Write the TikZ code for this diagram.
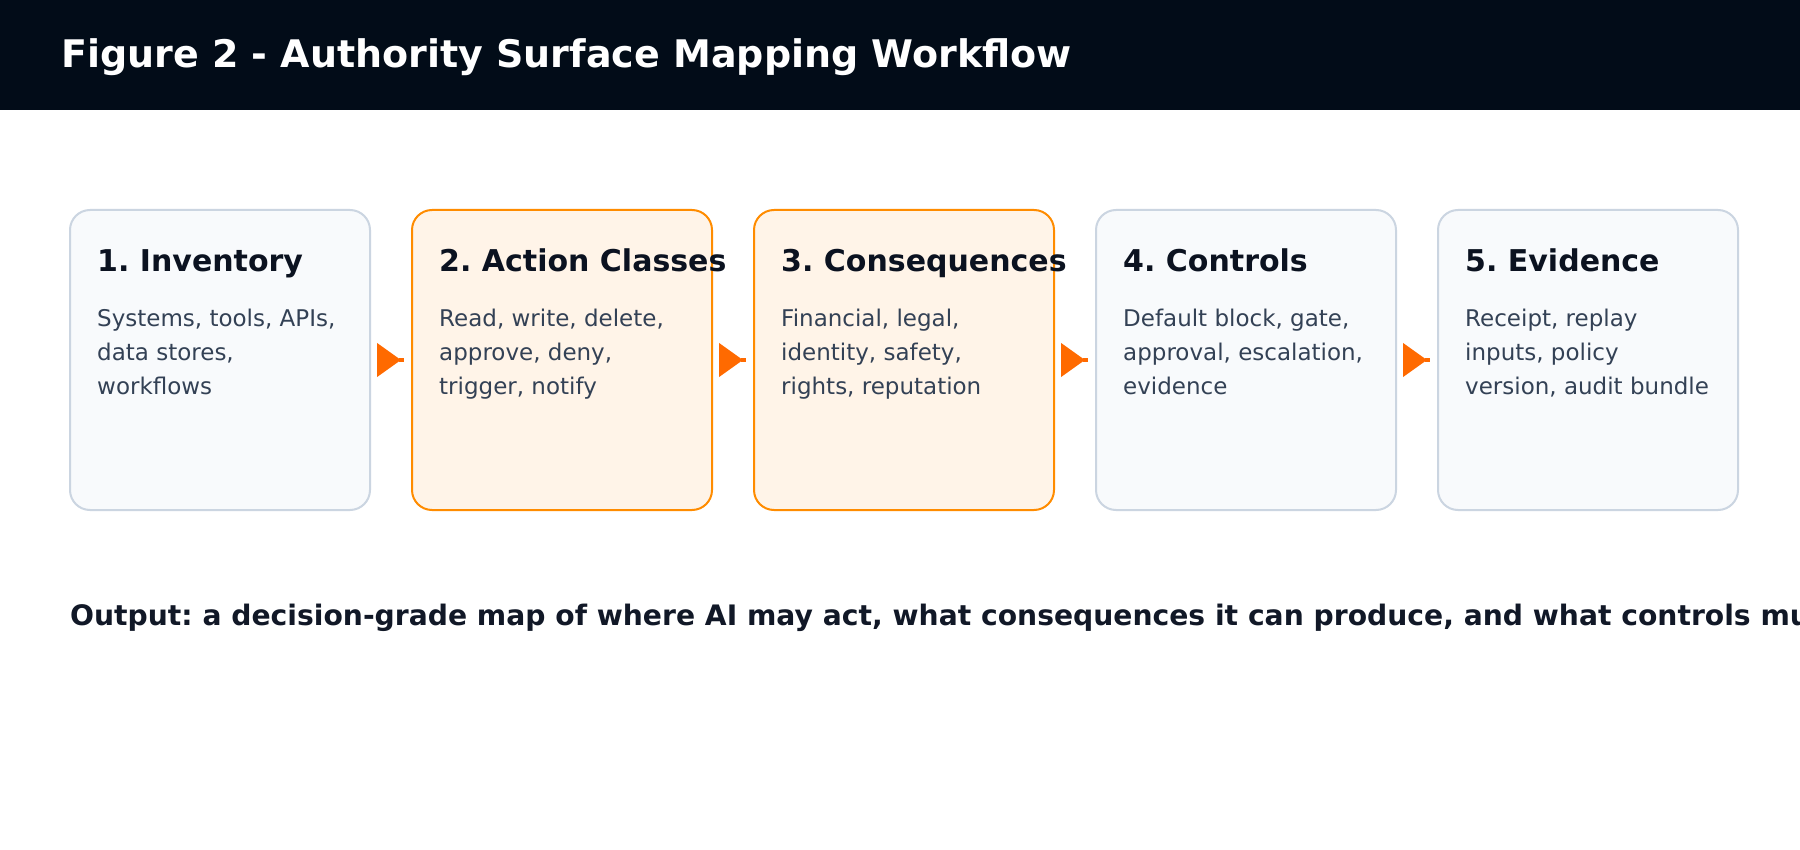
\documentclass[tikz,border=0pt]{standalone}
\usepackage{fontspec}
\setmainfont{DejaVu Sans}
\usetikzlibrary{positioning, calc, arrows.meta}
\frenchspacing

\definecolor{headerbg}{HTML}{020C18}
\definecolor{greyfill}{HTML}{F8FAFC}
\definecolor{greyline}{HTML}{CBD5E1}
\definecolor{orangefill}{HTML}{FFF4E8}
\definecolor{orangeline}{HTML}{FF8C00}
\definecolor{arrowcol}{HTML}{FF6A00}
\definecolor{titletext}{HTML}{0B1220}
\definecolor{bodytext}{HTML}{334155}
\definecolor{outtext}{HTML}{111827}

\tikzset{
    stagebox/.style={rounded corners=20pt, line width=2pt, minimum width=300pt, minimum height=300pt, inner sep=0pt},
    greybox/.style={stagebox, fill=greyfill, draw=greyline},
    orangebox/.style={stagebox, fill=orangefill, draw=orangeline},
    stagetitle/.style={anchor=base west, inner sep=0pt, text=titletext, font=\fontsize{30}{36}\selectfont\bfseries},
    stagebody/.style={anchor=base west, inner sep=0pt, text=bodytext, align=left, font=\fontsize{23}{34.4}\selectfont},
    flowarrow/.style={draw=arrowcol, line width=4.5pt, -{Triangle[length=24pt,width=33pt]}, shorten >=3pt},
    flowstub/.style={draw=arrowcol, line width=4.5pt}
}

\begin{document}
\begin{tikzpicture}[x=1pt, y=-1pt]
    \clip (0,0) rectangle (1800,850);
    \fill[white] (0,0) rectangle (1800,850);

    % Header bar
    \node (Header) at (900,55) [fill=headerbg, minimum width=1800pt, minimum height=110pt, inner sep=0pt]{};
    \node (HeaderTitle) at (61,68) [anchor=base west, inner sep=0pt, text=white, font=\fontsize{38}{45}\selectfont\bfseries]{Figure 2 - Authority Surface Mapping Workflow};

    % Inventory (base of the body text = its last line)
    \node (Inventory) at (220,360) [greybox]{};
    \node (Inventory-Title) at ($(Inventory.north west)+(28,63)$) [stagetitle]{1. Inventory};
    \node (Inventory-Text) at ($(Inventory.north west)+(28,186)$) [stagebody]{Systems, tools, APIs,\\data stores,\\workflows};

    % Action classes
    \node (ActionClasses) at (562,360) [orangebox]{};
    \node (ActionClasses-Title) at ($(ActionClasses.north west)+(28,63)$) [stagetitle]{2. Action Classes};
    \node (ActionClasses-Text) at ($(ActionClasses.north west)+(28,186)$) [stagebody]{Read, write, delete,\\approve, deny,\\trigger, notify};

    % Consequences
    \node (Consequences) at (904,360) [orangebox]{};
    \node (Consequences-Title) at ($(Consequences.north west)+(28,63)$) [stagetitle]{3. Consequences};
    \node (Consequences-Text) at ($(Consequences.north west)+(28,186)$) [stagebody]{Financial, legal,\\identity, safety,\\rights, reputation};

    % Controls
    \node (Controls) at (1246,360) [greybox]{};
    \node (Controls-Title) at ($(Controls.north west)+(28,63)$) [stagetitle]{4. Controls};
    \node (Controls-Text) at ($(Controls.north west)+(28,186)$) [stagebody]{Default block, gate,\\approval, escalation,\\evidence};

    % Evidence
    \node (Evidence) at (1588,360) [greybox]{};
    \node (Evidence-Title) at ($(Evidence.north west)+(28,63)$) [stagetitle]{5. Evidence};
    \node (Evidence-Text) at ($(Evidence.north west)+(28,186)$) [stagebody]{Receipt, replay\\inputs, policy\\version, audit bundle};

    %%%%%%%%%%%%%%%%%%%
    % Arrows between stages
    \draw[flowarrow] ($(Inventory.east)+(8,0)$) -- ($(ActionClasses.west)+(-7,0)$);
    \draw[flowstub] ($(ActionClasses.west)+(-12,0)$) -- ($(ActionClasses.west)+(-7,0)$);
    \draw[flowarrow] ($(ActionClasses.east)+(8,0)$) -- ($(Consequences.west)+(-7,0)$);
    \draw[flowstub] ($(Consequences.west)+(-12,0)$) -- ($(Consequences.west)+(-7,0)$);
    \draw[flowarrow] ($(Consequences.east)+(8,0)$) -- ($(Controls.west)+(-7,0)$);
    \draw[flowstub] ($(Controls.west)+(-12,0)$) -- ($(Controls.west)+(-7,0)$);
    \draw[flowarrow] ($(Controls.east)+(8,0)$) -- ($(Evidence.west)+(-7,0)$);
    \draw[flowstub] ($(Evidence.west)+(-12,0)$) -- ($(Evidence.west)+(-7,0)$);

    %%%%%%%%%%%%%%%%%%%
    % Output note
    \node (OutputNote) at (70,625) [anchor=base west, inner sep=0pt, text=outtext, font=\fontsize{28.2}{34}\selectfont\bfseries]{Output: a decision-grade map of where AI may act, what consequences it can produce, and what controls must};
\end{tikzpicture}
\end{document}
